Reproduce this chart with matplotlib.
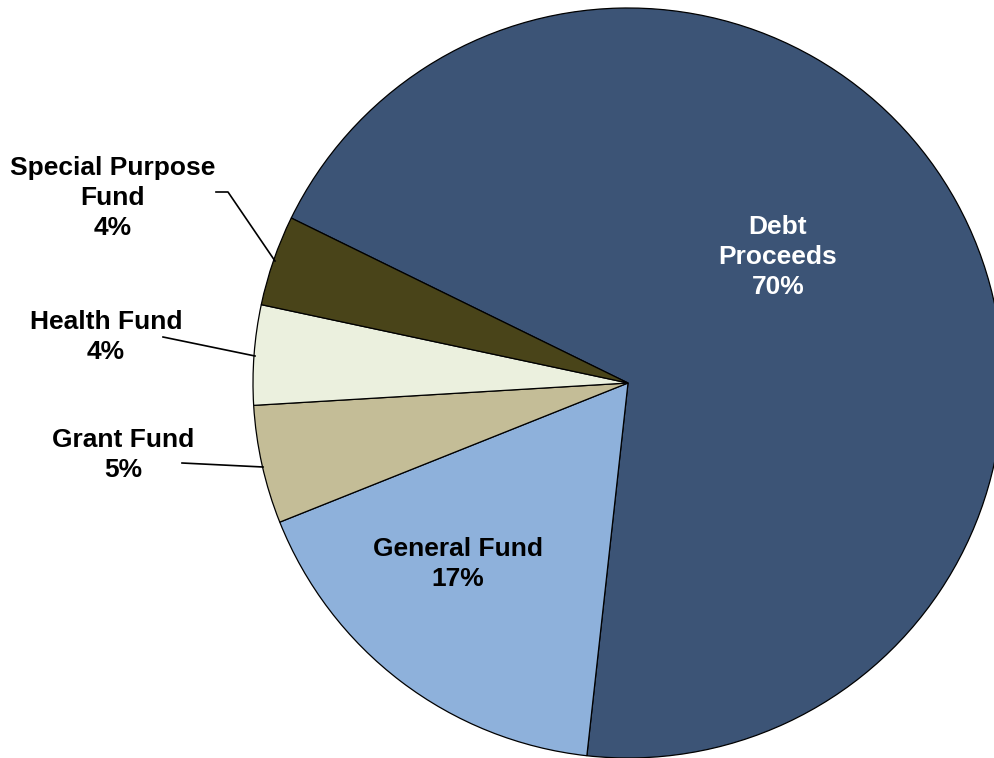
import matplotlib.pyplot as plt

# --------------------------
# Data
# --------------------------
funds = ['Debt\nProceeds', 'General Fund', 'Grant Fund', 'Health Fund', 'Special Purpose\nFund']
shares = [69.5, 17.2, 5.1, 4.3, 3.9]
pct_labels = ['70%', '17%', '5%', '4%', '4%']
colors = ['#3C5476', '#8EB1DB', '#C4BD97', '#EBF0DE', '#494419']

W, H = 995, 758
plt.rcParams['font.family'] = ['Liberation Sans', 'DejaVu Sans']

fig = plt.figure(figsize=(W / 100, H / 100), dpi=100)
ax = fig.add_axes([0, 0, 1, 1])

cx, cy, r = 628, H - 383, 375
ax.pie(shares, colors=colors, startangle=153.9, counterclock=False,
       center=(cx, cy), radius=r, frame=True,
       wedgeprops=dict(edgecolor='black', linewidth=0.9))
ax.set_xlim(0, W)
ax.set_ylim(0, H)
ax.set_aspect('equal')
ax.axis('off')

txt = dict(fontsize=19, fontweight='bold', ha='center', va='center', linespacing=1.33)

# inside labels
ax.text(778, H - 257, funds[0] + '\n' + pct_labels[0], color='white', **txt)
ax.text(458, H - 564, funds[1] + '\n' + pct_labels[1], color='black', **txt)

# outside labels
ax.text(113, H - 198, funds[4] + '\n' + pct_labels[4], color='black', **txt)
ax.text(106, H - 337, funds[3] + '\n' + pct_labels[3], color='black', **txt)
ax.text(123, H - 455, funds[2] + '\n' + pct_labels[2], color='black', **txt)

# leader lines
ax.plot([216, 228, 275], [H - 192, H - 192, H - 261], color='black', lw=1.2)
ax.plot([163, 255], [H - 337, H - 356], color='black', lw=1.2)
ax.plot([182, 263], [H - 463, H - 467], color='black', lw=1.2)

fig.savefig('out.png', dpi=100)
